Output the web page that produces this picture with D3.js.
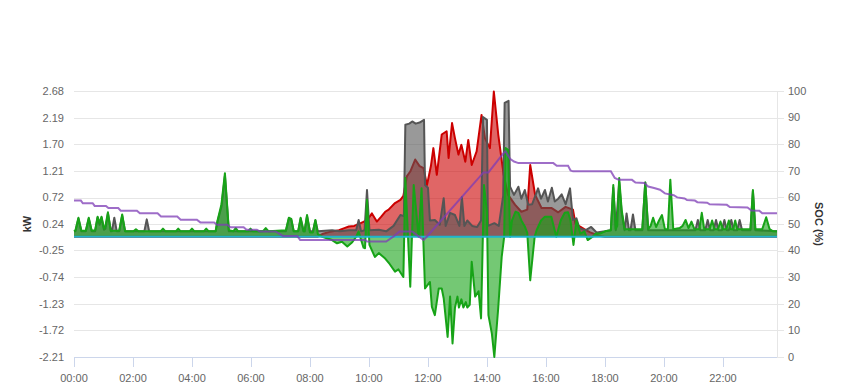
<!DOCTYPE html>
<html>
<head>
<meta charset="utf-8">
<script src="https://cdn.jsdelivr.net/npm/d3@7"></script>
<style>
  body { margin: 0; background: #fff; font-family: "Liberation Sans", Arial, sans-serif; }
</style>
</head>
<body>
<div id="chart"></div>
<script>
// ---- data (time "HH:MM", value) ----
const hourTicks = ["00:00","02:00","04:00","06:00","08:00","10:00","12:00","14:00","16:00","18:00","20:00","22:00"];
const kwTicks = [-2.21, -1.72, -1.23, -0.74, -0.25, 0.24, 0.72, 1.21, 1.70, 2.19, 2.68];
const socTicks = [0, 10, 20, 30, 40, 50, 60, 70, 80, 90, 100];

// solar production (kW)
const pv = [["00:00",0],["08:15",0],["08:25",0.05],["08:40",0.09],["08:59",0.12],["09:10",0.16],["09:19",0.19],
  ["09:30",0.2],["09:43",0.25],["09:50",0.28],["09:56",0.3],["10:06",0.43],["10:16",0.28],["10:25",0.37],["10:33",0.46],
  ["10:40",0.5],["10:53",0.62],["11:04",0.68],["11:10",0.75],["11:17",1.11],["11:24",1.2],["11:34",1.42],["11:43",1.3],
  ["11:51",1.26],["11:58",0.95],["12:06",1.3],["12:11",1.63],["12:18",1.14],["12:28",1.88],["12:38",1.94],["12:42",1.45],
  ["12:49",2.09],["12:55",1.81],["13:02",1.51],["13:08",1.69],["13:16",1.38],["13:22",1.78],["13:29",1.32],["13:39",1.57],
  ["13:49",2.24],["13:56",1.81],["14:06",1.63],["14:14",2.67],["14:23",1.88],["14:34",1.14],["14:43",0.77],["14:57",0.59],
  ["15:10",0.46],["15:22",0.5],["15:28",1.32],["15:38",0.77],["15:51",0.53],["16:11",0.53],["16:25",0.45],["16:40",0.55],
  ["16:55",0.5],["17:00",0.24],["17:18",0.14],["17:30",0.08],["17:48",0.02],["18:00",0],["23:50",0]];

// house consumption (kW)
const load = [["00:00",0.1],["00:03",0.1],["00:09",0.33],["00:15",0.1],["00:24",0.1],["00:30",0.33],["00:36",0.1],
  ["00:43",0.1],["00:48",0.35],["00:52",0.22],["00:56",0.35],["01:01",0.13],["01:04",0.15],["01:09",0.43],["01:15",0.1],
  ["01:17",0.1],["01:22",0.35],["01:27",0.1],["01:32",0.1],["01:38",0.39],["01:44",0.1],["02:23",0.1],["02:28",0.32],
  ["02:33",0.1],["04:48",0.1],["04:52",0.28],["05:00",0.55],["05:07",1.12],["05:15",0.1],["07:11",0.1],["07:17",0.33],
  ["07:22",0.31],["07:27",0.1],["07:36",0.1],["07:41",0.33],["07:47",0.1],["07:49",0.1],["07:54",0.38],["08:00",0.1],
  ["08:06",0.1],["08:11",0.3],["08:16",0.1],["08:45",0.12],["09:00",0.1],["09:20",0.12],["09:34",0.12],["09:39",0.31],
  ["09:44",0.1],["09:51",0.12],["09:56",0.86],["10:01",0.12],["10:20",0.13],["10:35",0.1],["10:50",0.2],["11:04",0.4],
  ["11:11",0.38],["11:14",2.06],["11:22",2.08],["11:28",2.12],["11:35",2.08],["11:43",2.1],["11:52",2.15],["11:54",0.95],
  ["12:00",0.9],["12:04",0.3],["12:14",0.31],["12:24",0.22],["12:32",0.71],["12:36",0.2],["12:45",0.44],["12:55",0.4],
  ["13:04",0.2],["13:09",0.73],["13:14",0.2],["13:20",0.3],["13:30",0.2],["13:40",0.18],["13:48",0.3],["13:52",2.2],
  ["14:00",2.15],["14:02",0.2],["14:15",0.25],["14:24",0.2],["14:33",0.75],["14:36",2.46],["14:44",2.5],["14:47",0.92],
  ["14:55",0.77],["15:04",0.92],["15:10",0.7],["15:17",0.86],["15:24",0.59],["15:32",0.6],["15:44",0.89],["15:50",0.7],
  ["15:58",0.86],["16:04",0.65],["16:12",0.9],["16:18",0.65],["16:25",0.7],["16:32",0.78],["16:40",0.6],["16:49",0.89],
  ["16:55",0.31],["17:02",0.34],["17:08",0.16],["17:20",0.12],["17:32",0.18],["17:43",0.08],["18:00",0.1],["18:12",0.12],
  ["18:17",0.9],["18:22",0.12],["18:29",1.0],["18:34",0.45],["18:40",0.12],["18:44",0.43],["18:49",0.12],["18:52",0.12],
  ["18:57",0.41],["19:02",0.12],["19:16",0.12],["19:22",1.0],["19:28",0.12],["21:04",0.12],["21:09",0.31],["21:14",0.12],
  ["21:24",0.12],["21:29",0.31],["21:34",0.12],["21:41",0.12],["21:46",0.31],["21:51",0.12],["21:58",0.12],["22:03",0.31],
  ["22:08",0.12],["22:12",0.12],["22:17",0.31],["22:22",0.12],["22:29",0.12],["22:34",0.31],["22:39",0.12],["22:56",0.12],
  ["23:01",0.84],["23:06",0.12],["23:50",0.1]];

// battery power (kW, + discharge / - charge)
const battery = [["00:00",0.1],["00:03",0.12],["00:09",0.35],["00:15",0.11],["00:24",0.11],["00:30",0.35],["00:36",0.11],
  ["00:43",0.12],["00:48",0.37],["00:52",0.25],["00:56",0.37],["01:01",0.15],["01:04",0.2],["01:09",0.45],["01:15",0.11],
  ["01:32",0.11],["01:38",0.41],["01:44",0.1],["02:01",0.1],["02:06",0.14],["02:11",0.1],["02:56",0.1],["03:01",0.15],
  ["03:06",0.1],["03:27",0.1],["03:32",0.15],["03:37",0.1],["03:55",0.1],["04:00",0.15],["04:05",0.1],["04:24",0.1],
  ["04:29",0.15],["04:34",0.1],["04:48",0.1],["04:52",0.3],["05:00",0.6],["05:07",1.17],["05:15",0.12],["05:24",0.1],
  ["05:29",0.16],["05:34",0.1],["05:54",0.1],["05:59",0.15],["06:04",0.1],["06:24",0.1],["06:30",0.16],["06:36",0.1],
  ["07:11",0.12],["07:17",0.35],["07:22",0.33],["07:27",0.1],["07:36",0.1],["07:41",0.35],["07:47",0.1],["07:49",0.1],
  ["07:54",0.4],["08:00",0.08],["08:06",0.08],["08:11",0.31],["08:16",0.05],["08:25",0.0],["08:45",-0.06],["08:55",-0.12],
  ["09:05",-0.09],["09:16",-0.18],["09:26",-0.1],["09:34",0.0],["09:39",0.1],["09:44",-0.06],["09:49",-0.2],["09:52",-0.21],
  ["09:56",0.68],["10:01",-0.15],["10:12",-0.37],["10:20",-0.3],["10:33",-0.4],["10:42",-0.5],["10:53",-0.64],["11:00",-0.6],
  ["11:10",-0.74],["11:14",1.08],["11:24",-0.92],["11:31",0.95],["11:41",0.0],["11:47",0.89],["11:54",-0.95],["12:04",-0.83],
  ["12:08",-1.29],["12:14",-1.44],["12:22",-0.95],["12:28",-0.95],["12:32",-1.13],["12:40",-1.84],["12:45",-1.1],
  ["12:50",-1.96],["12:55",-1.3],["13:00",-1.1],["13:03",-1.3],["13:08",-1.15],["13:12",-1.3],["13:17",-1.2],["13:20",-1.3],
  ["13:25",-1.25],["13:29",-0.46],["13:36",-1.1],["13:43",-1.0],["13:48",-1.5],["13:54",0.95],["14:00",0.46],["14:03",-1.44],
  ["14:10",-1.78],["14:15",-2.21],["14:23",-1.3],["14:30",-0.37],["14:35",0.0],["14:38",1.63],["14:43",1.6],["14:47",0.0],
  ["14:51",0.3],["14:58",0.46],["15:04",0.44],["15:10",0.3],["15:17",0.19],["15:22",0.07],["15:28",-0.8],["15:37",0.0],
  ["15:41",0.12],["15:50",0.3],["15:58",0.37],["16:11",0.37],["16:21",0.0],["16:30",0.3],["16:38",0.44],["16:45",0.45],
  ["16:50",0.3],["16:56",-0.15],["17:02",0.3],["17:10",0.06],["17:18",0.1],["17:25",-0.06],["17:35",0.0],["17:42",0.06],
  ["17:50",0.06],["18:00",0.1],["18:12",0.12],["18:17",0.95],["18:22",0.14],["18:25",0.2],["18:29",1.08],["18:34",0.5],
  ["18:40",0.14],["19:16",0.14],["19:22",1.0],["19:28",0.14],["19:33",0.2],["19:38",0.35],["19:44",0.18],["19:50",0.3],
  ["19:56",0.4],["20:02",0.14],["20:08",0.14],["20:13",1.05],["20:19",0.14],["20:32",0.16],["20:38",0.2],["20:44",0.31],
  ["20:50",0.16],["20:56",0.28],["21:02",0.14],["21:12",0.14],["21:17",0.44],["21:22",0.14],["21:33",0.14],["21:38",0.3],
  ["21:43",0.14],["21:50",0.14],["21:55",0.28],["22:00",0.14],["22:07",0.14],["22:12",0.3],["22:16",0.14],["22:21",0.14],
  ["22:25",0.3],["22:29",0.14],["22:45",0.14],["22:56",0.14],["23:01",0.86],["23:06",0.14],["23:20",0.14],["23:28",0.36],
  ["23:35",0.14],["23:42",0.1],["23:50",0.1]];

// grid power (kW)
const grid = [["00:00",0],["23:50",0]];

// battery state of charge (%)
const soc = [["00:00",58.8],["00:14",58.8],["00:18",57.8],["00:38",57.8],["00:42",56.8],["01:05",56.8],["01:10",56.0],
  ["01:30",56.0],["01:35",55.0],["02:08",55.0],["02:14",54.0],["02:50",54.0],["02:57",52.8],["03:30",52.8],["03:37",51.6],
  ["04:10",51.6],["04:17",50.6],["04:45",50.6],["04:51",49.7],["05:12",49.7],["05:18",48.8],["05:45",48.8],["05:51",47.8],
  ["06:12",47.8],["06:18",47.2],["06:50",47.2],["07:05",45.5],["07:34",45.5],["07:40",44.0],["09:52",44.0],["09:56",43.4],
  ["10:35",43.4],["10:50",45.3],["11:02",47.2],["11:28",47.2],["11:40",45.5],["11:51",44.0],["11:58",45.3],["13:53",69.4],
  ["14:03",69.4],["14:34",76.7],["14:38",77.3],["14:47",74.5],["14:55",73.5],["15:04",72.9],["16:15",72.9],["16:22",71.9],
  ["16:45",71.9],["16:50",70.1],["16:55",69.8],["18:12",69.8],["18:20",67.3],["18:28",66.6],["18:55",66.6],["19:02",65.6],
  ["19:20",65.4],["19:28",64.1],["19:40",63.5],["19:52",62.9],["20:02",61.5],["20:20",60.8],["20:27",60.0],["20:42",59.6],
  ["20:47",59.0],["21:03",58.8],["21:08",58.2],["21:28",58.0],["21:33",57.4],["22:08",57.2],["22:14",56.4],["22:50",56.2],
  ["22:58",55.1],["23:14",55.0],["23:20",54.0],["23:50",54.0]];

// ---- chart ----
const toHours = s => { const [h, m] = s.split(":").map(Number); return h + m / 60; };

const W = 849, H = 390;
const margin = {top: 91, right: 72, bottom: 33, left: 74};
const width = W - margin.left - margin.right;
const height = H - margin.top - margin.bottom;

const svg = d3.select("#chart").append("svg")
  .attr("width", W)
  .attr("height", H);

const g = svg.append("g")
  .attr("transform", "translate(" + margin.left + "," + margin.top + ")");

const x = d3.scaleLinear().domain([0, toHours("23:50")]).range([0, width]);
const yKw = d3.scaleLinear().domain([kwTicks[0], kwTicks[kwTicks.length - 1]]).range([height, 0]);
const ySoc = d3.scaleLinear().domain([0, 100]).range([height, 0]);

// grid lines
g.append("g")
  .selectAll("line")
  .data(kwTicks)
  .join("line")
  .attr("x1", 0)
  .attr("x2", width)
  .attr("y1", d => Math.round(yKw(d)) + 0.5)
  .attr("y2", d => Math.round(yKw(d)) + 0.5)
  .attr("stroke", "#e6e6e6");

// left axis labels
g.append("g")
  .selectAll("text")
  .data(kwTicks)
  .join("text")
  .attr("x", -10)
  .attr("y", d => yKw(d))
  .attr("dy", "0.35em")
  .attr("text-anchor", "end")
  .attr("font-size", 11)
  .attr("fill", "#666")
  .text(d => d.toFixed(2));

// right axis: line, ticks, labels
g.append("line")
  .attr("x1", width + 0.5).attr("x2", width + 0.5)
  .attr("y1", 0).attr("y2", height)
  .attr("stroke", "#e6e6e6");

g.append("g")
  .selectAll("line")
  .data(socTicks)
  .join("line")
  .attr("x1", width)
  .attr("x2", width + 7)
  .attr("y1", d => Math.round(ySoc(d)) + 0.5)
  .attr("y2", d => Math.round(ySoc(d)) + 0.5)
  .attr("stroke", "#e6e6e6");

g.append("g")
  .selectAll("text")
  .data(socTicks)
  .join("text")
  .attr("x", width + 11)
  .attr("y", d => ySoc(d))
  .attr("dy", "0.35em")
  .attr("font-size", 11)
  .attr("fill", "#666")
  .text(d => d);

// x axis
const xAxis = g.append("g")
  .attr("transform", "translate(0," + height + ")");

xAxis.append("line")
  .attr("x1", 0).attr("x2", width)
  .attr("y1", 0.5).attr("y2", 0.5)
  .attr("stroke", "#ccd6eb");

xAxis.selectAll(".tick")
  .data(hourTicks)
  .join("line")
  .attr("x1", d => Math.round(x(toHours(d))) + 0.5)
  .attr("x2", d => Math.round(x(toHours(d))) + 0.5)
  .attr("y1", 0)
  .attr("y2", 10)
  .attr("stroke", "#ccd6eb");

xAxis.selectAll("text")
  .data(hourTicks)
  .join("text")
  .attr("x", d => x(toHours(d)))
  .attr("y", 25)
  .attr("text-anchor", "middle")
  .attr("font-size", 11)
  .attr("fill", "#666")
  .text(d => d);

// axis titles
svg.append("text")
  .attr("transform", "translate(31," + (margin.top + height / 2) + ") rotate(-90)")
  .attr("text-anchor", "middle")
  .attr("font-size", 11)
  .attr("font-weight", "bold")
  .attr("fill", "#333")
  .text("kW");

svg.append("text")
  .attr("transform", "translate(815," + (margin.top + height / 2) + ") rotate(90)")
  .attr("text-anchor", "middle")
  .attr("font-size", 11)
  .attr("font-weight", "bold")
  .attr("fill", "#333")
  .text("SOC (%)");

// areas
const area = d3.area()
  .x(d => x(toHours(d[0])))
  .y0(yKw(0))
  .y1(d => yKw(d[1]));

const line = d3.line()
  .x(d => x(toHours(d[0])))
  .y(d => yKw(d[1]));

const areaSeries = [
  {data: pv, stroke: "#cc0000", fill: "#cc0000"},
  {data: load, stroke: "#555555", fill: "#555555"},
  {data: battery, stroke: "#17a317", fill: "#17a317"}
];

areaSeries.forEach(s => {
  g.append("path")
    .datum(s.data)
    .attr("d", area)
    .attr("fill", s.fill)
    .attr("fill-opacity", 0.6);
  g.append("path")
    .datum(s.data)
    .attr("d", line)
    .attr("fill", "none")
    .attr("stroke", s.stroke)
    .attr("stroke-width", 2)
    .attr("stroke-linejoin", "round");
});

// grid line
g.append("path")
  .datum(grid)
  .attr("d", line)
  .attr("fill", "none")
  .attr("stroke", "#1fb5cc")
  .attr("stroke-width", 2);

// state of charge
g.append("path")
  .datum(soc)
  .attr("d", d3.line().x(d => x(toHours(d[0]))).y(d => ySoc(d[1])))
  .attr("fill", "none")
  .attr("stroke", "#7d3cb5")
  .attr("stroke-opacity", 0.75)
  .attr("stroke-width", 2);
</script>
</body>
</html>
